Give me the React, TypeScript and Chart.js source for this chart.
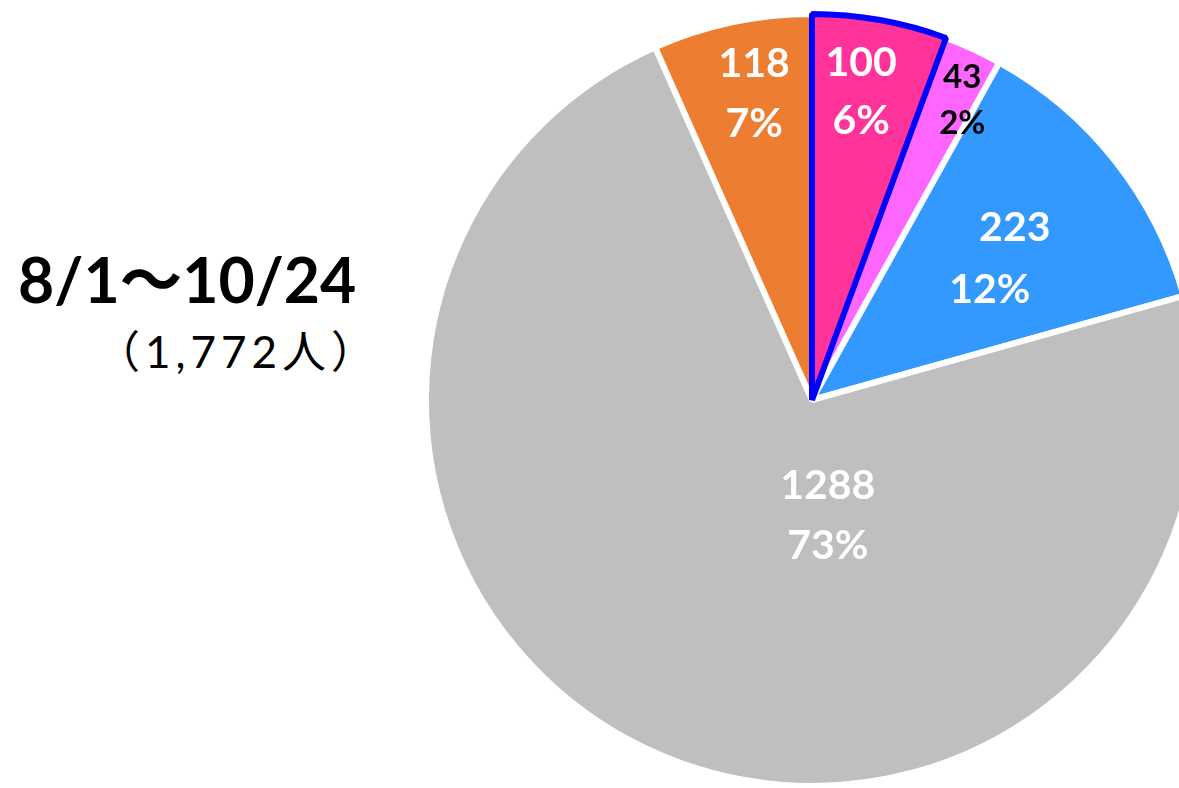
import React, { useEffect, useRef } from "react";
import { Chart, registerables } from "chart.js";

Chart.register(...registerables);

// Data (clockwise from 12 o'clock)
const categories = ["A", "B", "C", "D", "E"];
const values = [100, 43, 223, 1288, 118];
const percentLabels = ["6%", "2%", "12%", "73%", "7%"];
const sliceColors = ["#FF3399", "#FF66FF", "#3399FF", "#BFBFBF", "#ED7D31"];
const titleText = "8/1～10/24";
const subtitleText = "（1,772人）";

// label layout (radial fraction + nudges), kept separate from the data
const labelLayout = [
  { f: 0.81, dx: -6, dy: 0, color: "#FFFFFF", size: 41, gap: 58 },
  { f: 0.87, dx: 10, dy: 5, color: "#000000", size: 33, gap: 46 },
  { f: 0.61, dx: 5, dy: 5, color: "#FFFFFF", size: 41, gap: 62, x1: 13, x2: -12 },
  { f: 0.3, dx: 65, dy: 11, color: "#FFFFFF", size: 41, gap: 60 },
  { f: 0.81, dx: 7, dy: 0, color: "#FFFFFF", size: 41, gap: 60 },
];

// draw order: put the highlighted slice last so its blue border is on top
const order = [1, 2, 3, 4, 0];

export default function App() {
  const ref = useRef<HTMLCanvasElement>(null);
  useEffect(() => {
    const total = values.reduce((a, b) => a + b, 0);
    const rotation = (values[0] / total) * 360;
    const labelPlugin = {
      id: "sliceLabels",
      afterDatasetsDraw(chart: any) {
        const ctx = chart.ctx;
        const meta = chart.getDatasetMeta(0);
        meta.data.forEach((arc: any, i: number) => {
          const idx = order[i];
          const L: any = labelLayout[idx];
          const mid = (arc.startAngle + arc.endAngle) / 2;
          const r = arc.outerRadius * L.f;
          const cx = arc.x + Math.cos(mid) * r + L.dx;
          const cy = arc.y + Math.sin(mid) * r + L.dy;
          ctx.save();
          ctx.fillStyle = L.color;
          ctx.font = `bold ${L.size}px Lato`;
          ctx.textAlign = "center";
          ctx.textBaseline = "middle";
          ctx.fillText(String(values[idx]), cx + (L.x1 || 0), cy - L.gap / 2);
          ctx.fillText(percentLabels[idx], cx + (L.x2 || 0), cy + L.gap / 2);
          ctx.restore();
        });
      },
    };
    const chart = new Chart(ref.current!, {
      type: "pie",
      data: {
        labels: order.map((i) => categories[i]),
        datasets: [
          {
            data: order.map((i) => values[i]),
            backgroundColor: order.map((i) => sliceColors[i]),
            borderColor: order.map((i) => (i === 0 ? "#0000FF" : "#FFFFFF")),
            borderWidth: 6,
          },
        ],
      },
      options: {
        responsive: false,
        animation: false,
        rotation: rotation,
        layout: { padding: 11 },
        plugins: { legend: { display: false }, tooltip: { enabled: false } },
      },
      plugins: [labelPlugin],
    });
    return () => chart.destroy();
  }, []);

  return (
    <div
      style={{
        position: "fixed",
        left: 0,
        top: 0,
        width: 1179,
        height: 788,
        overflow: "hidden",
        background: "#FFFFFF",
      }}
    >
      <div
        style={{
          position: "absolute",
          left: 18,
          top: 248,
          fontFamily: "Lato, 'Noto Sans CJK JP', sans-serif",
          fontWeight: 700,
          fontSize: 62.5,
          lineHeight: 1,
          whiteSpace: "nowrap",
          color: "#000",
        }}
      >
        {titleText}
      </div>
      <div
        style={{
          position: "absolute",
          left: 96,
          top: 329,
          fontFamily: "Lato, 'Noto Sans CJK JP', sans-serif",
          fontWeight: 400,
          fontSize: 44,
          letterSpacing: 5,
          lineHeight: 1,
          whiteSpace: "nowrap",
          color: "#000",
        }}
      >
        {subtitleText}
      </div>
      <canvas
        ref={ref}
        width={800}
        height={800}
        style={{ position: "absolute", left: 412, top: 0 }}
      />
    </div>
  );
}
